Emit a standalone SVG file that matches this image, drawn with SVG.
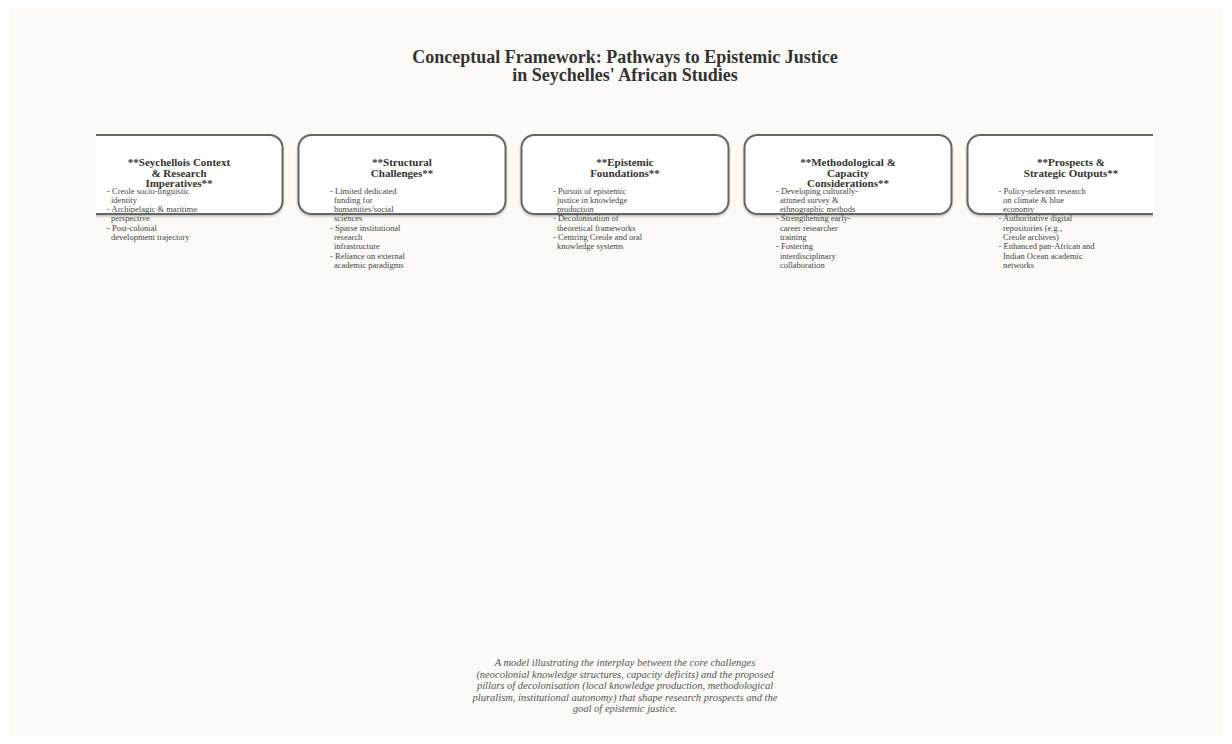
<svg xmlns="http://www.w3.org/2000/svg" width="1232" height="744" viewBox="0 0 1232 744">
<defs>
<style>
.title{font-family:"Liberation Serif",serif;font-weight:bold;font-size:18px;fill:#333;text-anchor:middle}
.nt{font-family:"Liberation Serif",serif;font-weight:bold;font-size:11px;fill:#333;text-anchor:middle}
.bl{font-family:"Liberation Serif",serif;font-size:8.5px;fill:#444}
.cap{font-family:"Liberation Serif",serif;font-style:italic;font-size:10.5px;fill:#555;text-anchor:middle}
.box{fill:#fff;stroke:#666;stroke-width:2}
</style>
<clipPath id="clip"><rect x="96" y="0" width="1057" height="744"/></clipPath>
<filter id="sh" x="-5%" y="-10%" width="110%" height="130%"><feDropShadow dx="0" dy="1.5" stdDeviation="0.8" flood-color="#000" flood-opacity="0.25"/></filter>
</defs>
<rect x="0" y="0" width="1232" height="744" fill="#fff"/>
<rect x="10" y="8" width="1212" height="728" fill="#fbfaf6"/>
<text class="title"><tspan x="625" y="62.5">Conceptual Framework: Pathways to Epistemic Justice</tspan><tspan x="625" y="81">in Seychelles' African Studies</tspan></text>
<g id="connectors"></g>
<g clip-path="url(#clip)">
<g id="node1">
<rect class="box" filter="url(#sh)" x="75.5" y="135" width="207" height="79" rx="13"/>
<text class="nt"><tspan x="179" y="166">**Seychellois Context</tspan><tspan x="179" y="176.5">&amp; Research</tspan><tspan x="179" y="187">Imperatives**</tspan></text>
<text class="bl"><tspan x="107" y="193.5">- Creole socio-linguistic</tspan><tspan x="111" y="202.8">identity</tspan><tspan x="107" y="212.1">- Archipelagic &amp; maritime</tspan><tspan x="111" y="221.4">perspective</tspan><tspan x="107" y="230.7">- Post-colonial</tspan><tspan x="111" y="240">development trajectory</tspan></text>
</g>
<g id="node2">
<rect class="box" filter="url(#sh)" x="298.5" y="135" width="207" height="79" rx="13"/>
<text class="nt"><tspan x="402" y="166">**Structural</tspan><tspan x="402" y="176.5">Challenges**</tspan></text>
<text class="bl"><tspan x="330" y="193.5">- Limited dedicated</tspan><tspan x="334" y="202.8">funding for</tspan><tspan x="334" y="212.1">humanities/social</tspan><tspan x="334" y="221.4">sciences</tspan><tspan x="330" y="230.7">- Sparse institutional</tspan><tspan x="334" y="240">research</tspan><tspan x="334" y="249.3">infrastructure</tspan><tspan x="330" y="258.6">- Reliance on external</tspan><tspan x="334" y="267.9">academic paradigms</tspan></text>
</g>
<g id="node3">
<rect class="box" filter="url(#sh)" x="521.5" y="135" width="207" height="79" rx="13"/>
<text class="nt"><tspan x="625" y="166">**Epistemic</tspan><tspan x="625" y="176.5">Foundations**</tspan></text>
<text class="bl"><tspan x="553" y="193.5">- Pursuit of epistemic</tspan><tspan x="557" y="202.8">justice in knowledge</tspan><tspan x="557" y="212.1">production</tspan><tspan x="553" y="221.4">- Decolonisation of</tspan><tspan x="557" y="230.7">theoretical frameworks</tspan><tspan x="553" y="240">- Centring Creole and oral</tspan><tspan x="557" y="249.3">knowledge systems</tspan></text>
</g>
<g id="node4">
<rect class="box" filter="url(#sh)" x="744.5" y="135" width="207" height="79" rx="13"/>
<text class="nt"><tspan x="848" y="166">**Methodological &amp;</tspan><tspan x="848" y="176.5">Capacity</tspan><tspan x="848" y="187">Considerations**</tspan></text>
<text class="bl"><tspan x="776" y="193.5">- Developing culturally-</tspan><tspan x="780" y="202.8">attuned survey &amp;</tspan><tspan x="780" y="212.1">ethnographic methods</tspan><tspan x="776" y="221.4">- Strengthening early-</tspan><tspan x="780" y="230.7">career researcher</tspan><tspan x="780" y="240">training</tspan><tspan x="776" y="249.3">- Fostering</tspan><tspan x="780" y="258.6">interdisciplinary</tspan><tspan x="780" y="267.9">collaboration</tspan></text>
</g>
<g id="node5">
<rect class="box" filter="url(#sh)" x="967.5" y="135" width="207" height="79" rx="13"/>
<text class="nt"><tspan x="1071" y="166">**Prospects &amp;</tspan><tspan x="1071" y="176.5">Strategic Outputs**</tspan></text>
<text class="bl"><tspan x="998.5" y="193.5">- Policy-relevant research</tspan><tspan x="1003" y="202.8">on climate &amp; blue</tspan><tspan x="1003" y="212.1">economy</tspan><tspan x="998.5" y="221.4">- Authoritative digital</tspan><tspan x="1003" y="230.7">repositories (e.g.,</tspan><tspan x="1003" y="240">Creole archives)</tspan><tspan x="998.5" y="249.3">- Enhanced pan-African and</tspan><tspan x="1003" y="258.6">Indian Ocean academic</tspan><tspan x="1003" y="267.9">networks</tspan></text>
</g>
</g>
<text class="cap"><tspan x="625" y="666">A model illustrating the interplay between the core challenges</tspan><tspan x="625" y="677.5">(neocolonial knowledge structures, capacity deficits) and the proposed</tspan><tspan x="625" y="689">pillars of decolonisation (local knowledge production, methodological</tspan><tspan x="625" y="700.5">pluralism, institutional autonomy) that shape research prospects and the</tspan><tspan x="625" y="712">goal of epistemic justice.</tspan></text>
</svg>
